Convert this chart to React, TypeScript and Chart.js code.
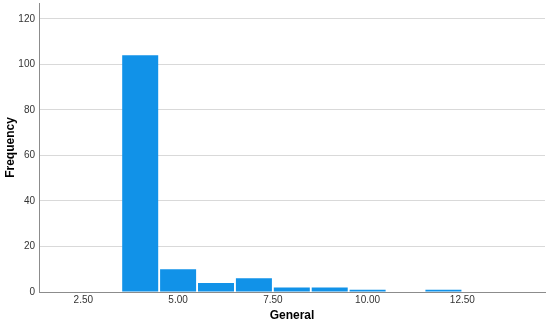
import { useEffect, useRef } from 'react';
import { Chart, registerables } from 'chart.js';

Chart.register(...registerables);

const binCenters = [4, 5, 6, 7, 8, 9, 10, 12];
const frequencies = [104, 10, 4, 6, 2, 2, 1, 1];
const xTickValues = [2.5, 5, 7.5, 10, 12.5];
const yTickValues = [0, 20, 40, 60, 80, 100, 120];
const xTitle = 'General';
const yTitle = 'Frequency';

const FONT = "'Liberation Sans', Arial, sans-serif";

export default function App() {
  const ref = useRef<HTMLCanvasElement | null>(null);

  useEffect(() => {
    if (!ref.current) return;
    const chart = new Chart(ref.current, {
      type: 'bar',
      data: {
        datasets: [
          {
            data: binCenters.map((x, i) => ({ x, y: frequencies[i] })),
            backgroundColor: '#1192e8',
            borderWidth: 0,
            barPercentage: 0.95,
            categoryPercentage: 1,
          } as any,
        ],
      },
      options: {
        responsive: false,
        animation: false,
        layout: { padding: { top: 3, right: 5, left: 0, bottom: 0 } },
        plugins: { legend: { display: false }, tooltip: { enabled: false } },
        scales: {
          x: {
            type: 'linear',
            min: 1.33,
            max: 14.68,
            offset: false,
            grid: { display: false, drawTicks: false },
            border: { display: true, color: '#8c8c8c', width: 1 },
            afterBuildTicks: (s: any) => {
              s.ticks = xTickValues.map((v) => ({ value: v }));
            },
            afterFit: (s: any) => {
              s.height = 33;
              s.paddingLeft = 0;
              s.paddingRight = 0;
            },
            ticks: {
              autoSkip: false,
              maxRotation: 0,
              padding: 2,
              color: '#333333',
              font: { family: FONT, size: 10 },
              callback: (v: any) => Number(v).toFixed(2),
            },
            title: {
              display: true,
              text: xTitle,
              color: '#000000',
              font: { family: FONT, size: 12, weight: 'bold' },
              padding: { top: 0, bottom: 2 },
            },
          },
          y: {
            type: 'linear',
            min: 0,
            max: 127,
            grid: { display: true, drawTicks: false, color: '#d9d9d9', lineWidth: 1 },
            border: { display: true, color: '#8c8c8c', width: 1 },
            afterBuildTicks: (s: any) => {
              s.ticks = yTickValues.map((v) => ({ value: v }));
            },
            afterFit: (s: any) => {
              s.width = 39;
              s.paddingTop = 0;
              s.paddingBottom = 0;
            },
            ticks: {
              padding: 4,
              color: '#333333',
              font: { family: FONT, size: 10 },
            },
            title: {
              display: true,
              text: yTitle,
              color: '#000000',
              font: { family: FONT, size: 12, weight: 'bold' },
              padding: { top: 3, bottom: 0 },
            },
          },
        },
      } as any,
    });
    return () => chart.destroy();
  }, []);

  return (
    <div style={{ position: 'fixed', left: 0, top: 0, width: 550, height: 325, background: '#fff' }}>
      <canvas ref={ref} width={550} height={325} style={{ display: 'block' }} />
    </div>
  );
}
